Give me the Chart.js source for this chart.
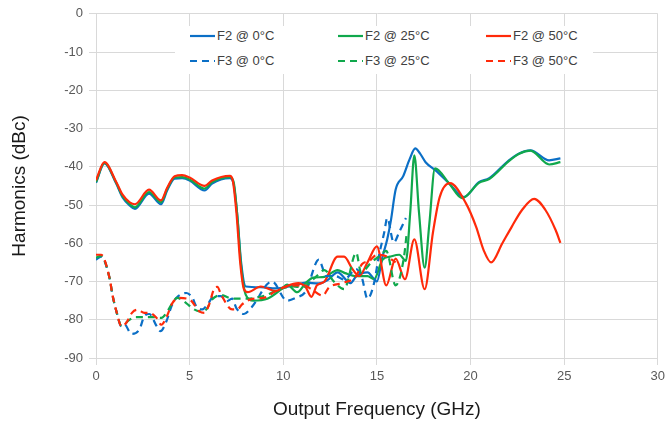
<!DOCTYPE html>
<html>
<head>
<meta charset="utf-8">
<script src="https://cdn.jsdelivr.net/npm/chart.js@4"></script>
<style>
    body { margin: 0; background: #fff; }
    #wrap { position: relative; width: 669px; height: 424px; }
    #legend {
        position: absolute; left: 175px; top: 26px; width: 418px; height: 48px;
        background: #fff; font-family: "Liberation Sans", Arial, sans-serif;
        font-size: 13px; color: #404040;
    }
    .item { position: absolute; height: 16px; line-height: 16px; white-space: nowrap; }
    .item svg { position: absolute; left: 0; top: 3px; }
    .item span { position: absolute; left: 27px; top: 0; }
</style>
</head>
<body>
<div id="wrap">
    <canvas id="chart" width="669" height="424"></canvas>
    <div id="legend"></div>
</div>
<script>
// F2 @ 0°C
const f2Freq0 = [0, 0.45, 1.08, 1.42, 1.8, 2.08, 2.83, 3.47, 3.8, 4.2, 4.6, 5.0, 5.8, 6.2, 7.15, 7.35, 7.55, 7.75, 8.0, 8.8,
    9.6, 10.6, 11.2, 11.9, 12.4, 12.9, 13.6, 13.9, 14.5, 14.85, 15.0, 15.3, 15.55, 15.75, 16.0, 16.4, 16.75, 17.05, 17.3, 17.6,
    18.15, 18.85, 19.65, 20.45, 21.0, 22.05, 22.6, 23.2, 24.2, 24.8];
const f2Db0 = [-44.2, -39.1, -44.4, -48, -50.1, -51, -47, -49.8, -46.2, -43.1, -43, -43.6, -46.2, -44.4, -43, -44.5, -53, -65, -71.3, -71.5,
    -71.8, -71, -70.3, -70.5, -69.5, -67.6, -70.4, -68.6, -67.6, -69.4, -70, -63.5, -59, -54, -46, -42.5, -38, -35.2, -36.5, -38.8,
    -41, -44.3, -47.9, -44, -43, -38.3, -36.5, -35.7, -38.3, -37.8];

// F2 @ 25°C
const f2Freq25 = [0, 0.45, 1.08, 1.42, 1.8, 2.08, 2.83, 3.47, 3.8, 4.2, 4.6, 5.0, 5.8, 6.2, 7.15, 7.35, 7.55, 7.75, 8.0, 8.4,
    9.15, 9.9, 10.2, 10.75, 11.2, 11.6, 12.2, 12.9, 13.3, 13.9, 14.5, 14.85, 15.3, 15.7, 16.2, 16.55, 16.78, 17.0, 17.25, 17.55,
    17.8, 18.1, 18.85, 19.55, 20.45, 21.0, 22.05, 22.6, 23.2, 24.2, 24.8];
const f2Db25 = [-44, -39, -44.2, -47.7, -49.8, -50.6, -46.6, -49.3, -45.8, -42.8, -42.7, -43.3, -45.7, -44, -42.7, -44, -53, -66, -73.5, -75,
    -74.5, -72, -70.8, -72.8, -70.4, -69, -68.8, -67, -67.8, -68.6, -68.6, -69.4, -64.3, -63.5, -63, -64.6, -52, -37, -52, -66.4,
    -55, -40.4, -44.3, -48.2, -44.2, -43.2, -38.5, -36.6, -35.8, -39.4, -38.8];

// F2 @ 50°C
const f2Freq50 = [0, 0.45, 1.08, 1.42, 1.8, 2.08, 2.83, 3.47, 3.8, 4.2, 4.6, 5.0, 5.8, 6.2, 7.15, 7.3, 7.5, 7.7, 7.9, 8.1,
    8.8, 9.6, 10.0, 10.8, 11.2, 11.5, 11.8, 12.2, 12.9, 13.25, 13.7, 14.05, 14.5, 15.0, 15.5, 16.0, 16.5, 17.0, 17.55, 18.0,
    18.35, 18.9, 19.75, 20.3, 20.7, 21.1, 21.7, 22.2, 22.75, 23.4, 24.0, 24.55, 24.8];
const f2Db50 = [-43.5, -38.8, -44, -47.3, -49.3, -49.8, -46, -48.8, -45.5, -42.5, -42.2, -42.8, -45, -43.6, -42.4, -43.5, -52, -65, -72, -72.8,
    -71.3, -72.5, -71.6, -70.4, -71.5, -74, -71, -70, -63.5, -63.5, -66.8, -68.6, -65, -60.8, -71, -64, -69.4, -59, -72, -57,
    -48, -44.3, -49.5, -55.7, -61.8, -65, -60, -55.7, -51.3, -48.4, -51.3, -56.6, -59.9];

// F3 @ 0°C
const f3Freq0 = [0, 0.27, 0.72, 0.88, 1.09, 1.36, 1.52, 1.89, 2.32, 2.59, 2.85, 3.23, 3.44, 3.76, 4.03, 4.29, 4.83, 5.15, 5.36, 5.68,
    5.95, 6.32, 6.69, 6.95, 7.27, 7.5, 7.9, 8.3, 9.4, 10.2, 10.7, 11.2, 11.9, 12.3, 12.8, 13.25, 13.9, 14.2, 14.5, 14.85,
    15.1, 15.4, 15.55, 15.9, 16.2, 16.55];
const f3Db0 = [-64.3, -63.5, -69, -73.5, -77.8, -81.7, -81.2, -83.7, -82.5, -79, -78.5, -81.6, -83, -80.4, -76.5, -74.3, -73, -74.3, -76.5, -77.3,
    -76, -73.8, -73.8, -75.2, -74.5, -77, -78.5, -76.8, -70, -75, -74.2, -72.6, -64.3, -68.6, -68.6, -69.5, -66.8, -69, -74.5, -70.4,
    -63.5, -57, -53.4, -59.8, -57, -53.4];

// F3 @ 25°C
const f3Freq25 = [0, 0.27, 0.72, 0.88, 1.09, 1.36, 1.79, 2.05, 2.48, 3.01, 3.49, 3.81, 4.07, 4.33, 4.83, 5.15, 5.52, 5.89, 6.2, 6.69,
    7.12, 7.55, 8.03, 9.0, 9.6, 10.5, 11.0, 11.8, 12.2, 12.7, 13.25, 13.9, 14.15, 14.7, 15.1, 15.5, 16.0, 16.45, 16.6];
const f3Db25 = [-63.8, -63.3, -69, -73.5, -77.8, -81.5, -80, -79.3, -79.3, -79.3, -79.5, -77.8, -75.7, -74.3, -75.7, -77, -77.8, -77.3, -74.7, -73.5,
    -74.3, -74.5, -74.5, -73.7, -72.5, -71.3, -71.5, -68.5, -67, -70, -72, -62.5, -67.6, -65, -63.5, -62, -71, -63.5, -57];

// F3 @ 50°C
const f3Freq50 = [0, 0.27, 0.72, 0.88, 1.09, 1.36, 1.62, 1.92, 2.21, 2.59, 2.85, 3.23, 3.49, 3.81, 4.07, 4.45, 5.0, 5.52, 5.79, 6.04,
    6.32, 6.48, 6.69, 7.27, 7.55, 7.8, 8.3, 9.0, 9.6, 10.5, 11.1, 11.5, 12.1, 12.45, 13.25, 13.9, 14.2, 14.6, 15.0, 15.5, 16.0];
const f3Db50 = [-63, -63, -69, -73.5, -77.8, -81.7, -80.8, -78.2, -77.4, -78.2, -78.2, -79.5, -81.3, -78.8, -75.7, -74.3, -74.7, -77.8, -78.2, -76,
    -71.8, -71.4, -73.5, -77.3, -77.3, -76, -74.6, -74.2, -72.5, -71, -71, -72, -73.7, -71.5, -70.3, -68.5, -65.5, -64.6, -63, -63.4, -65];

const seriesNames = ['F2 @ 0°C', 'F2 @ 25°C', 'F2 @ 50°C', 'F3 @ 0°C', 'F3 @ 25°C', 'F3 @ 50°C'];
const seriesFreqs = [f2Freq0, f2Freq25, f2Freq50, f3Freq0, f3Freq25, f3Freq50];
const seriesDbs = [f2Db0, f2Db25, f2Db50, f3Db0, f3Db25, f3Db50];
const xTicks = [0, 5, 10, 15, 20, 25, 30];
const yTicks = [0, -10, -20, -30, -40, -50, -60, -70, -80, -90];

const colors = ['#0b6fc6', '#10a84c', '#ff2a0a'];
const dash = [7, 5];
const gridColor = '#d9d9d9';
const tickFont = { family: '"Liberation Sans", Arial, sans-serif', size: 13 };
const titleFont = { family: '"Liberation Sans", Arial, sans-serif', size: 19 };

function makePoints(xs, ys) {
    return xs.map((x, i) => ({ x: x, y: ys[i] }));
}

const datasets = seriesNames.map((name, i) => ({
    label: name,
    data: makePoints(seriesFreqs[i], seriesDbs[i]),
    borderColor: colors[i % 3],
    borderWidth: 2.2,
    borderDash: i < 3 ? [] : dash,
    pointRadius: 0,
    fill: false,
    cubicInterpolationMode: 'monotone',
    order: 5 - i
}));

new Chart(document.getElementById('chart'), {
    type: 'line',
    data: { datasets: datasets },
    options: {
        responsive: false,
        animation: false,
        layout: { padding: { top: 13, right: 11, left: 0, bottom: 0 } },
        plugins: { legend: { display: false }, tooltip: { enabled: false } },
        scales: {
            x: {
                type: 'linear',
                min: 0,
                max: 30,
                afterBuildTicks: (scale) => { scale.ticks = xTicks.map(v => ({ value: v })); },
                afterFit: (scale) => { scale.height = 66; },
                ticks: { color: '#595959', font: tickFont, padding: 4, maxRotation: 0 },
                grid: { color: gridColor, tickLength: 7 },
                border: { color: gridColor },
                title: { display: true, text: 'Output Frequency (GHz)', color: '#1a1a1a', font: titleFont, padding: { top: 0, bottom: 3 } }
            },
            y: {
                type: 'linear',
                min: -90,
                max: 0,
                afterBuildTicks: (scale) => { scale.ticks = yTicks.map(v => ({ value: v })); },
                afterFit: (scale) => { scale.width = 96; },
                ticks: { color: '#595959', font: tickFont, padding: 6 },
                grid: { color: gridColor, tickLength: 7 },
                border: { color: gridColor },
                title: { display: true, text: 'Harmonics (dBc)', color: '#1a1a1a', font: titleFont, padding: { top: 8, bottom: 0 } }
            }
        }
    }
});

// Legend drawn as html on top of the plot area
const legend = document.getElementById('legend');
const colLeft = [15, 163, 311];
const rowTop = [2, 27];
seriesNames.forEach((name, i) => {
    const item = document.createElement('div');
    item.className = 'item';
    item.style.left = colLeft[i % 3] + 'px';
    item.style.top = rowTop[Math.floor(i / 3)] + 'px';
    const dashAttr = i < 3 ? '' : ' stroke-dasharray="7 5"';
    item.innerHTML = '<svg width="25" height="10"><line x1="0" y1="5" x2="25" y2="5" stroke="' + colors[i % 3] +
        '" stroke-width="2.2"' + dashAttr + '/></svg><span>' + name + '</span>';
    legend.appendChild(item);
});
</script>
</body>
</html>
